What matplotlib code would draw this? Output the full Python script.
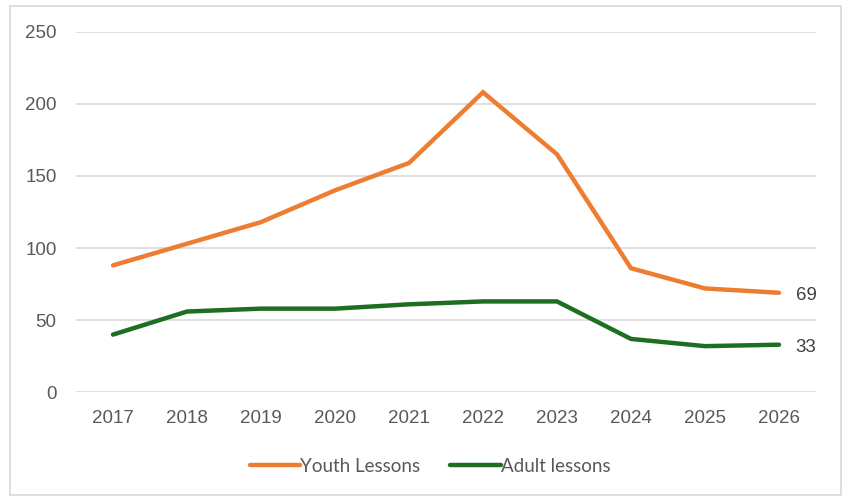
import matplotlib
matplotlib.use("Agg")
import matplotlib.pyplot as plt
from matplotlib.patches import Rectangle

years = ["2017", "2018", "2019", "2020", "2021", "2022", "2023", "2024", "2025", "2026"]
youth = [88, 103, 118, 140, 159, 208, 165, 86, 72, 69]
adult = [40, 56, 58, 58, 61, 63, 63, 37, 32, 33]
yticks = [0, 50, 100, 150, 200, 250]

orange = "#ED7D31"
green = "#1E6E22"
txt = "#595959"

fig = plt.figure(figsize=(8.45, 4.98), dpi=100)
fig.patches.append(Rectangle((10 / 845, 3 / 498), 831 / 845, 489 / 498,
                             transform=fig.transFigure, fill=False,
                             edgecolor="#D9D9D9", linewidth=1.2))
ax = fig.add_axes([76 / 845, 1 - 392.3 / 498, 740 / 845, 360.6 / 498])

x = list(range(len(years)))
l1, = ax.plot(x, youth, color=orange, lw=3.2, solid_capstyle="round",
              solid_joinstyle="miter", label="Youth Lessons", zorder=3)
l2, = ax.plot(x, adult, color=green, lw=3.2, solid_capstyle="round",
              solid_joinstyle="miter", label="Adult lessons", zorder=3)

ax.set_xlim(-0.5, len(years) - 0.5)
ax.set_ylim(0, 250)
ax.set_yticks(yticks)
ax.set_xticks(x)
ax.set_xticklabels(years)
ax.grid(axis="y", color="#D9D9D9", lw=1.2)
ax.set_axisbelow(True)
for s in ax.spines.values():
    s.set_visible(False)
ax.tick_params(length=0, labelsize=13.5, labelcolor=txt)
ax.tick_params(axis="y", pad=14)
ax.tick_params(axis="x", pad=13)
for t in ax.get_xticklabels() + ax.get_yticklabels():
    t.set_family("Liberation Sans")

ax.annotate(str(youth[-1]), (x[-1], youth[-1]), xytext=(12, -2),
            textcoords="offset points", va="center", ha="left",
            fontsize=13.5, color="#404040", family="Liberation Sans")
ax.annotate(str(adult[-1]), (x[-1], adult[-1]), xytext=(12, -2),
            textcoords="offset points", va="center", ha="left",
            fontsize=13.5, color="#404040", family="Liberation Sans")

leg = fig.legend(handles=[l1, l2], loc="center", bbox_to_anchor=(430 / 845, 1 - 466 / 498),
                 ncol=2, frameon=False, handlelength=2.7, handletextpad=0.0,
                 columnspacing=1.6, prop={"family": "Lato", "size": 13.5})
for t in leg.get_texts():
    t.set_color(txt)

fig.savefig("out.png", dpi=100)
